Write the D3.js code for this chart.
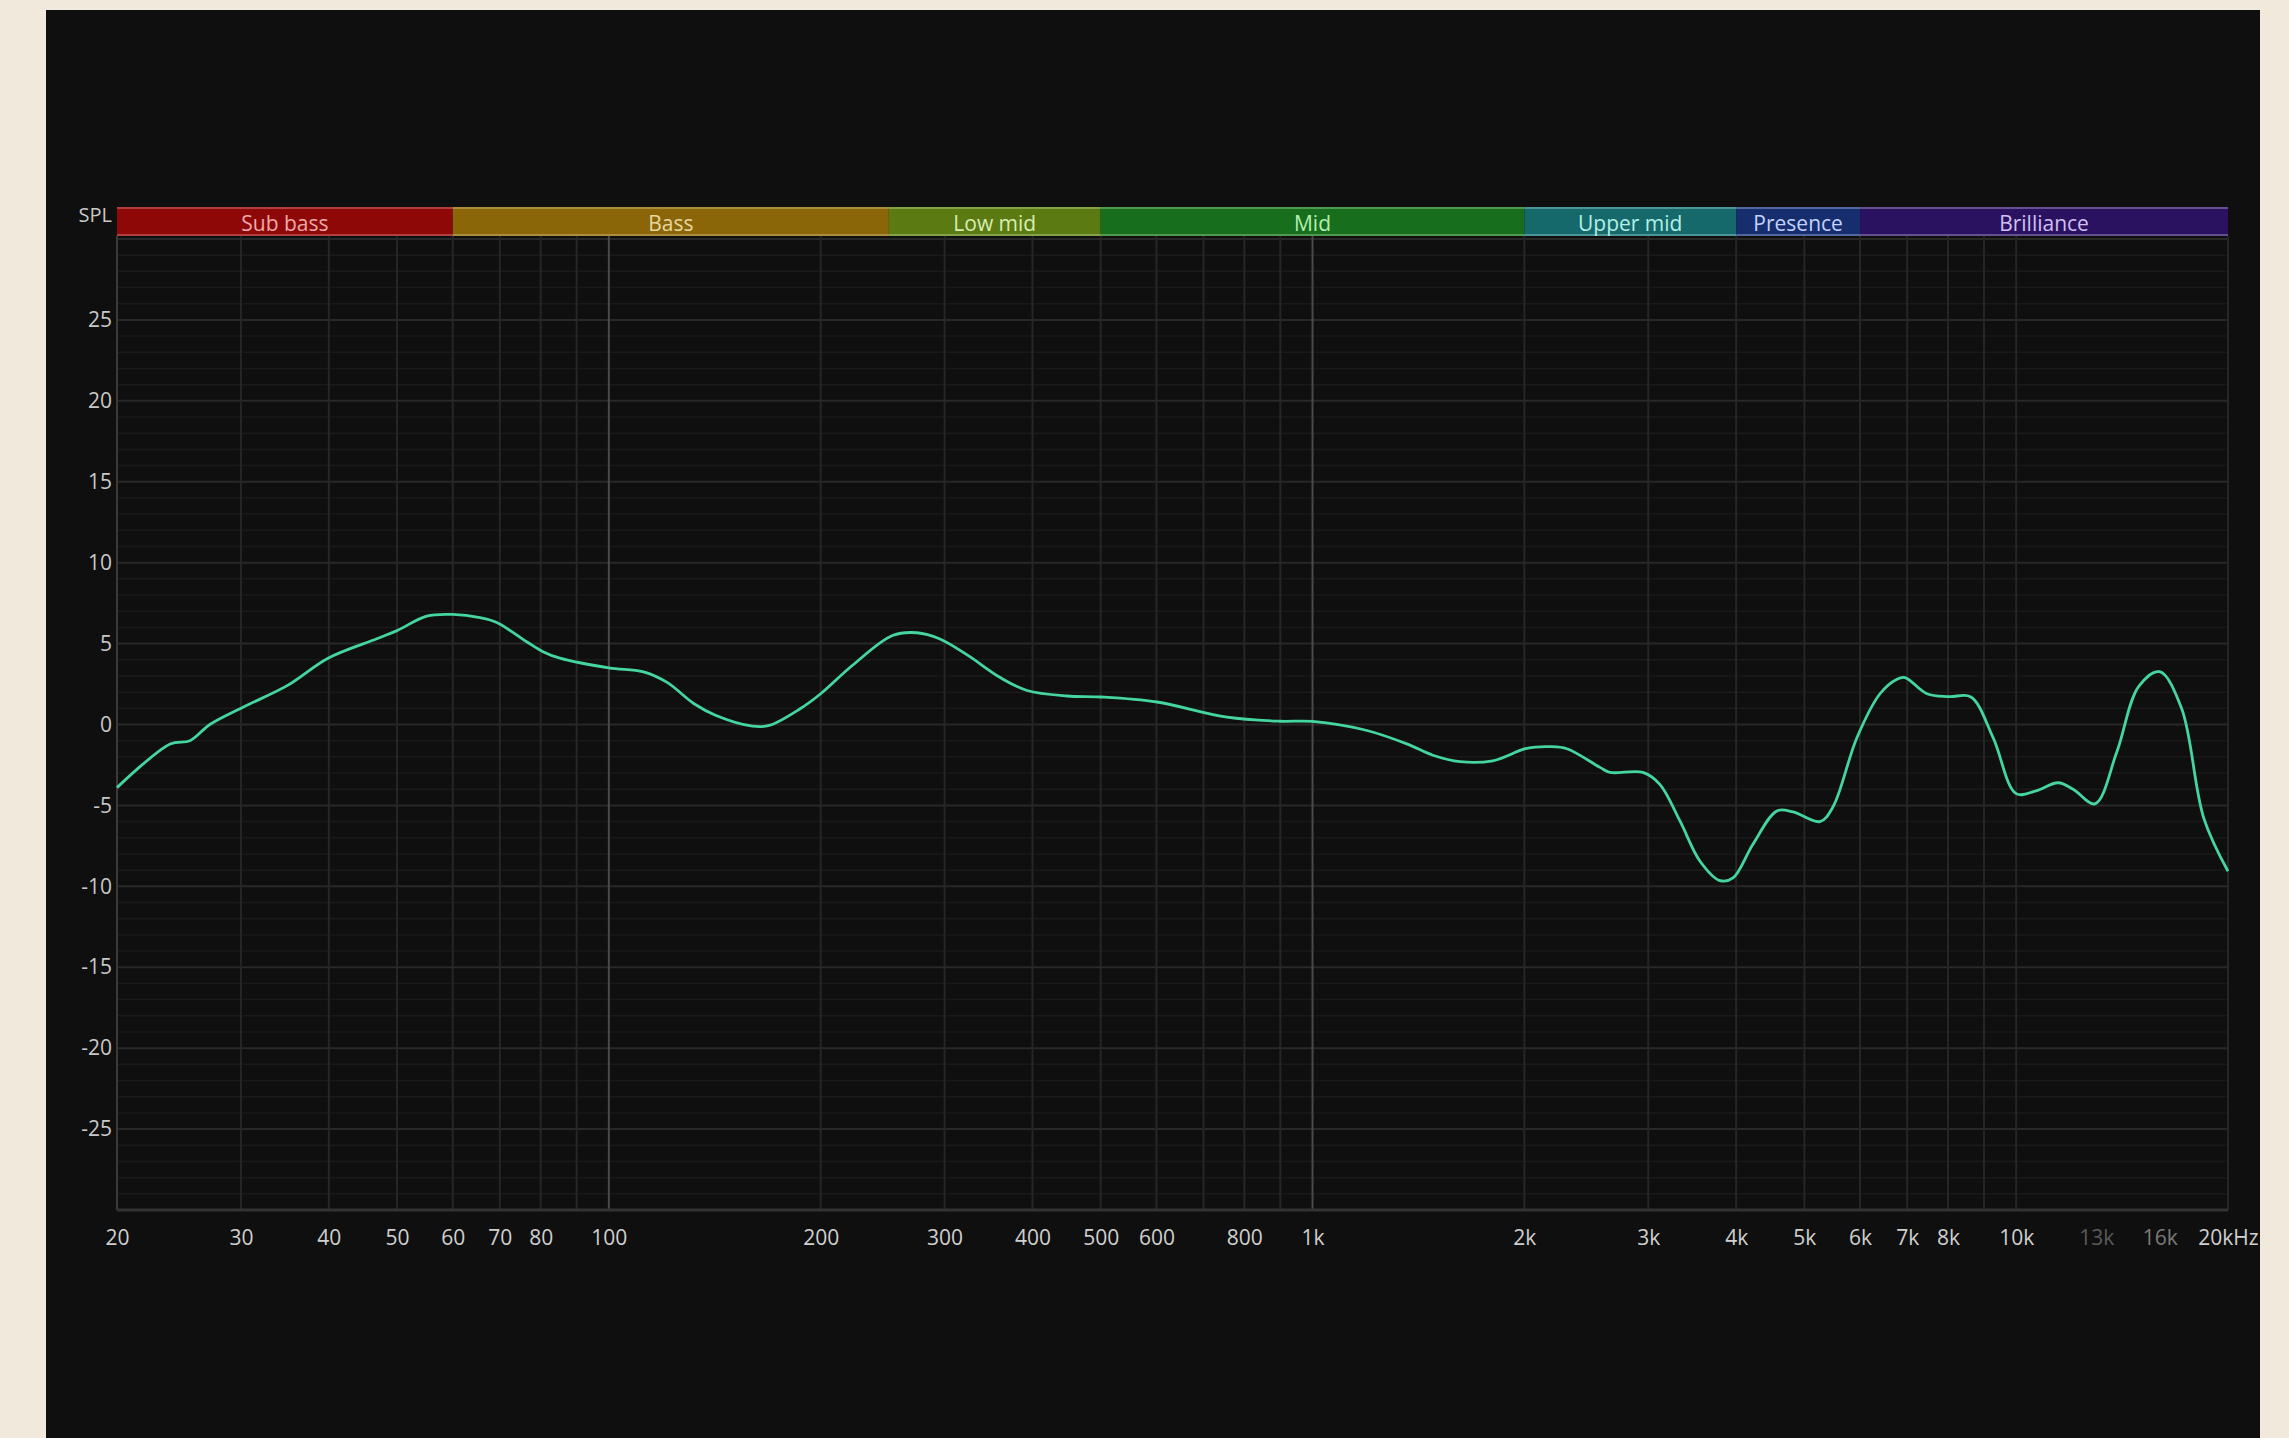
<!DOCTYPE html>
<html>
<head>
<meta charset="utf-8">
<script src="https://cdn.jsdelivr.net/npm/d3@7"></script>
<style>
  html, body { margin: 0; padding: 0; background: #f1e9dc; }
  svg { display: block; }
  text { font-family: "Open Sans", "Noto Sans", sans-serif; }
</style>
</head>
<body>
<div id="content"></div>
<script>
const width = 2289;
const height = 1438;

// frequency response (Hz, dB SPL)
const freqs = [20, 23.8, 25.4, 27.1, 30.2, 34.9, 39.9, 46.8, 50, 55.1, 60, 65.6, 69.3, 76.5, 80.6, 85.2,
    100, 112, 121, 132, 142, 160, 169, 187, 200, 222, 253, 274, 295, 323, 360, 393, 448, 500,
    601, 756, 899, 1000, 1195, 1362, 1483, 1620, 1804, 2017, 2175, 2299, 2562, 2647, 2948, 3116,
    3328, 3554, 3794, 3959, 4226, 4571, 4818, 5262, 5490, 5940, 6404, 6770, 6950, 7470, 8025,
    8622, 9270, 10000, 10670, 11470, 12050, 12940, 13900, 14930, 15990, 17180, 18480, 20000];
const spl = [-3.9, -1.2, -1.0, 0.0, 1.07, 2.4, 4.1, 5.3, 5.8, 6.7, 6.8, 6.6, 6.3, 5.1, 4.5, 4.1,
    3.5, 3.25, 2.6, 1.3, 0.56, -0.1, -0.06, 0.97, 1.9, 3.66, 5.5, 5.67, 5.3, 4.3, 2.9, 2.1, 1.76, 1.7,
    1.39, 0.45, 0.2, 0.19, -0.37, -1.2, -1.9, -2.3, -2.24, -1.47, -1.37, -1.5, -2.65, -2.96, -2.96, -3.7,
    -5.96, -8.45, -9.65, -9.48, -7.4, -5.34, -5.4, -6.0, -5.1, -0.8, 1.9, 2.8, 2.9, 1.9, 1.72,
    1.7, -0.8, -4.27, -4.1, -3.6, -4.0, -4.9, -1.7, 2.35, 3.26, 1.0, -5.8, -9.07];

// frequency bands
const bandNames = ['Sub bass', 'Bass', 'Low mid', 'Mid', 'Upper mid', 'Presence', 'Brilliance'];
const bandEdges = [20, 60, 250, 500, 2000, 4000, 6000, 20000];
const bandFill = ['#8e0808', '#8a6608', '#5b7a12', '#176e1c', '#16696a', '#162e6e', '#2b1260'];
const bandText = ['#f0a8a8', '#e6d6a0', '#d6eeb0', '#b2eeb2', '#b2eee8', '#c4d2ff', '#d0c0f2'];

// axis ticks
const xTicks = [20, 30, 40, 50, 60, 70, 80, 100, 200, 300, 400, 500, 600, 800, 1000, 2000,
    3000, 4000, 5000, 6000, 7000, 8000, 10000, 13000, 16000, 20000];
const xTickLabels = ['20', '30', '40', '50', '60', '70', '80', '100', '200', '300', '400', '500', '600',
    '800', '1k', '2k', '3k', '4k', '5k', '6k', '7k', '8k', '10k', '13k', '16k', '20kHz'];
const yTicks = [25, 20, 15, 10, 5, 0, -5, -10, -15, -20, -25];

const plotLeft = 117, plotRight = 2228, plotTop = 239, plotBottom = 1210;
const bandTop = 207, bandBottom = 236;

const x = d3.scaleLog().domain([20, 20000]).range([plotLeft, plotRight]);
const y = d3.scaleLinear().domain([-30, 30]).range([plotBottom, plotTop]);

const fig = d3.select('#content')
    .append('svg')
    .attr('width', width)
    .attr('height', height);

fig.append('rect')
    .attr('x', 0).attr('y', 0)
    .attr('width', width).attr('height', height)
    .attr('fill', '#f1e9dc');

fig.append('rect')
    .attr('x', 46).attr('y', 10)
    .attr('width', 2214).attr('height', height - 10)
    .attr('fill', '#0f0f0f');

// grid
const grid = fig.append('g');

const minorDb = d3.range(-30, 31, 1).filter(d => d % 5 !== 0);
grid.selectAll('.hminor')
    .data(minorDb)
    .join('line')
    .attr('x1', plotLeft).attr('x2', plotRight)
    .attr('y1', d => y(d)).attr('y2', d => y(d))
    .attr('stroke', '#1a1a1a')
    .attr('stroke-width', 1.5);

grid.selectAll('.hmajor')
    .data(d3.range(-25, 31, 5))
    .join('line')
    .attr('x1', plotLeft).attr('x2', plotRight)
    .attr('y1', d => y(d)).attr('y2', d => y(d))
    .attr('stroke', '#282828')
    .attr('stroke-width', 2);

const gridFreqs = [];
[10, 100, 1000, 10000].forEach(dec => {
    for (let m = 1; m <= 9; m++) {
        const f = dec * m;
        if (f >= 20 && f <= 20000) gridFreqs.push(f);
    }
});
gridFreqs.push(20000);

grid.selectAll('.vgrid')
    .data(gridFreqs)
    .join('line')
    .attr('x1', d => x(d)).attr('x2', d => x(d))
    .attr('y1', bandBottom).attr('y2', plotBottom)
    .attr('stroke', d => (d === 100 || d === 1000) ? '#4a4a4a' : (d === 20 ? '#3a3a3a' : '#262626'))
    .attr('stroke-width', 2);

// bottom axis line
fig.append('line')
    .attr('x1', plotLeft).attr('x2', plotRight)
    .attr('y1', plotBottom).attr('y2', plotBottom)
    .attr('stroke', '#333333')
    .attr('stroke-width', 3);

// bands
const bands = bandNames.map((name, i) => ({
    name, x0: bandEdges[i], x1: bandEdges[i + 1], fill: bandFill[i], text: bandText[i]
}));

const bandG = fig.append('g');
bandG.selectAll('rect')
    .data(bands)
    .join('rect')
    .attr('x', d => x(d.x0))
    .attr('y', bandTop)
    .attr('width', d => x(d.x1) - x(d.x0))
    .attr('height', bandBottom - bandTop)
    .attr('fill', d => d.fill);

bandG.selectAll('.edge-top')
    .data(bands)
    .join('line')
    .attr('x1', d => x(d.x0)).attr('x2', d => x(d.x1))
    .attr('y1', bandTop + 1).attr('y2', bandTop + 1)
    .attr('stroke', d => d.text)
    .attr('stroke-opacity', 0.35)
    .attr('stroke-width', 2);

bandG.selectAll('.edge-bottom')
    .data(bands)
    .join('line')
    .attr('x1', d => x(d.x0)).attr('x2', d => x(d.x1))
    .attr('y1', bandBottom - 1).attr('y2', bandBottom - 1)
    .attr('stroke', d => d.text)
    .attr('stroke-opacity', 0.35)
    .attr('stroke-width', 2);

bandG.selectAll('text')
    .data(bands)
    .join('text')
    .attr('x', d => (x(d.x0) + x(d.x1)) / 2)
    .attr('y', (bandTop + bandBottom) / 2 + 4)
    .attr('text-anchor', 'middle')
    .attr('dominant-baseline', 'middle')
    .attr('font-size', 21)
    .attr('fill', d => d.text)
    .text(d => d.name);

fig.append('text')
    .attr('x', 112)
    .attr('y', 217)
    .attr('text-anchor', 'end')
    .attr('dominant-baseline', 'middle')
    .attr('font-size', 20)
    .attr('fill', '#c8c8c8')
    .text('SPL');

// axes
const yAxis = fig.append('g')
    .attr('transform', `translate(${plotLeft - 2},0)`)
    .call(d3.axisLeft(y).tickValues(yTicks).tickSize(0).tickFormat(d => String(d)));
yAxis.select('.domain').remove();
yAxis.selectAll('text')
    .attr('font-size', 21)
    .attr('fill', '#c8c8c8')
    .attr('font-family', '"Open Sans", "Noto Sans", sans-serif');

const xAxis = fig.append('g')
    .attr('transform', `translate(0,${plotBottom + 17})`)
    .call(d3.axisBottom(x).tickValues(xTicks).tickSize(0)
        .tickFormat((d, i) => xTickLabels[i]));
xAxis.select('.domain').remove();
xAxis.selectAll('text')
    .attr('font-size', 21)
    .attr('fill', d => d === 13000 ? '#5a5a5a' : (d === 16000 ? '#7a7a7a' : '#d0d0d0'))
    .attr('font-family', '"Open Sans", "Noto Sans", sans-serif');

// response curve
const pts = freqs.map((f, i) => [f, spl[i]]);
const line = d3.line()
    .x(d => x(d[0]))
    .y(d => y(d[1]))
    .curve(d3.curveCatmullRom.alpha(0.5));

fig.append('path')
    .datum(pts)
    .attr('d', line)
    .attr('fill', 'none')
    .attr('stroke', '#45d6a0')
    .attr('stroke-width', 2.8)
    .attr('stroke-linejoin', 'round');
</script>
</body>
</html>
